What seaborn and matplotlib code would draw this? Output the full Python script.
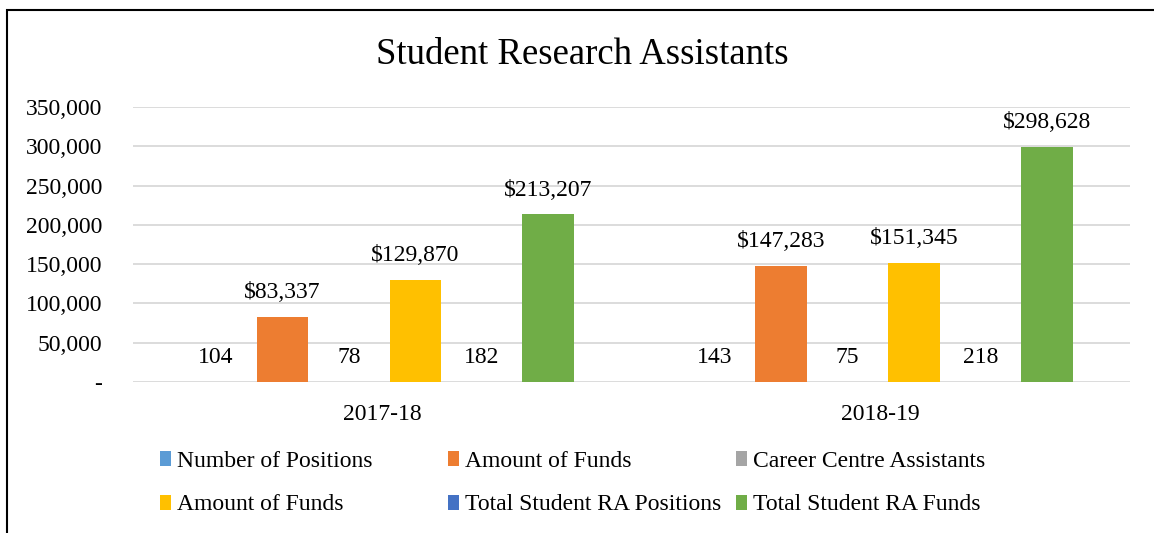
import pandas as pd
import matplotlib
matplotlib.use('Agg')
import matplotlib.pyplot as plt
from matplotlib.patches import Patch, Rectangle
import seaborn as sns

# Chart data
years = ['2017-18', '2018-19']
series_labels = ['Number of Positions', 'Amount of Funds', 'Career Centre Assistants',
                 'Amount of Funds', 'Total Student RA Positions', 'Total Student RA Funds']
series_keys = ['ra_pos', 'ra_funds', 'cca_pos', 'cca_funds', 'tot_pos', 'tot_funds']
is_money = [False, True, False, True, False, True]
colors = ['#5B9BD5', '#ED7D31', '#A5A5A5', '#FFC000', '#4472C4', '#70AD47']

ra_pos = [104, 143]
ra_funds = [83337, 147283]
cca_pos = [78, 75]
cca_funds = [129870, 151345]
tot_pos = [182, 218]
tot_funds = [213207, 298628]

values = [ra_pos, ra_funds, cca_pos, cca_funds, tot_pos, tot_funds]

rows = []
for key, vals in zip(series_keys, values):
    for yr, v in zip(years, vals):
        rows.append({'year': yr, 'series': key, 'value': v})
df = pd.DataFrame(rows)

sns.set_style('white')
plt.rcParams['font.family'] = ['Liberation Serif', 'DejaVu Serif']
plt.rcParams['text.color'] = 'black'

fig = plt.figure(figsize=(11.54, 5.33), dpi=100)
ax = fig.add_axes([133 / 1154, 1 - 382 / 533, (1130 - 133) / 1154, (382 - 107) / 533])

sns.barplot(data=df, x='year', y='value', hue='series', hue_order=series_keys,
            palette=colors, width=0.8, gap=0.22, ax=ax, legend=False,
            errorbar=None, linewidth=0, saturation=1)

ax.set_ylim(0, 350000)
ax.set_yticks(range(0, 350001, 50000))
ax.set_yticklabels(['-'] + [f'{t:,}' for t in range(50000, 350001, 50000)])
ax.set_xlabel('')
ax.set_ylabel('')
ax.tick_params(axis='both', labelsize=17, length=0, colors='black')
ax.tick_params(axis='y', pad=22)
ax.tick_params(axis='x', pad=16)
ax.yaxis.grid(True, color='#D9D9D9', linewidth=1.3)
ax.set_axisbelow(True)
for s in ax.spines.values():
    s.set_visible(False)

# data labels
for cont, money in zip(ax.containers, is_money):
    labels = [f'${b.get_height():,.0f}' if money else f'{b.get_height():.0f}' for b in cont]
    ax.bar_label(cont, labels=labels, padding=10, fontsize=17, color='black')

fig.text(582 / 1154, 1 - 55 / 533, 'Student Research Assistants', ha='center', va='center',
         fontsize=26.5, color='black')

# outer frame
fig.patches.append(Rectangle((7 / 1154, -0.2), 1.2, 1 - 10 / 533 + 0.2,
                             transform=fig.transFigure, fill=False,
                             edgecolor='black', linewidth=1.5))

# legend: three columns, two rows (row-wise order)
col_x = [160, 448, 736]
for c in range(3):
    idx = [c, c + 3]
    handles = [Patch(facecolor=colors[i], edgecolor='none') for i in idx]
    labels = [series_labels[i] for i in idx]
    leg = fig.legend(handles, labels, loc='upper left',
                     bbox_to_anchor=(col_x[c] / 1154, 1 - 451 / 533),
                     frameon=False, fontsize=17, handlelength=0.45, handleheight=0.6,
                     handletextpad=0.25, labelspacing=0.95, borderpad=0, borderaxespad=0)
    for t in leg.get_texts():
        t.set_color('black')

fig.savefig('out.png', dpi=100)
